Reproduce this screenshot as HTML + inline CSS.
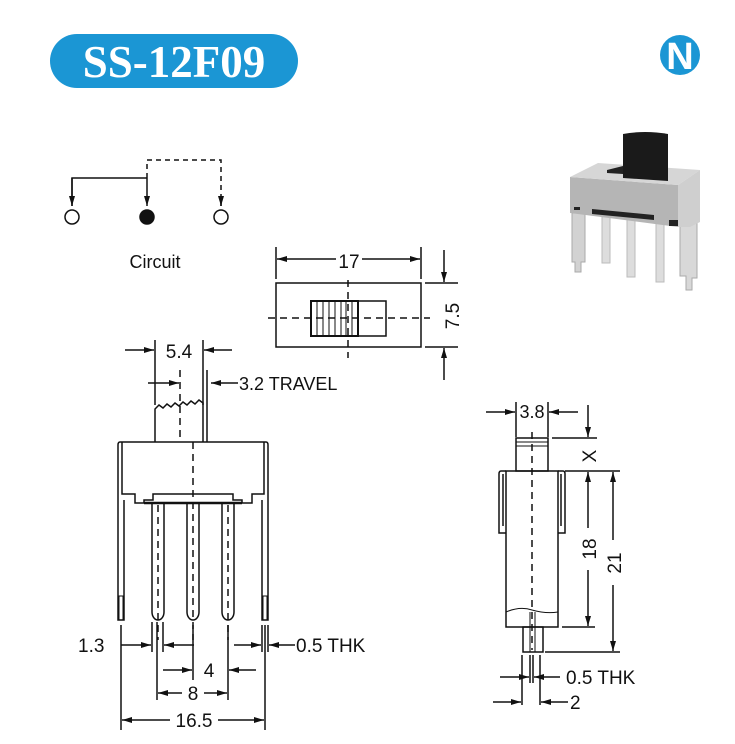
<!DOCTYPE html>
<html><head><meta charset="utf-8"><style>
html,body{margin:0;padding:0;background:#fff;}
svg{display:block;font-family:"Liberation Sans",Arial,sans-serif;}
</style></head><body>
<svg width="735" height="744" viewBox="0 0 735 744" xmlns="http://www.w3.org/2000/svg">
<defs>
<marker id="a" viewBox="0 0 10 6" refX="10" refY="3" markerWidth="10" markerHeight="6" markerUnits="userSpaceOnUse" orient="auto"><path d="M0,0 L10,3 L0,6 z" fill="#111"/></marker>
</defs>
<rect x="50" y="34" width="248" height="54" rx="27" fill="#1b96d4"/>
<text x="174" y="77" text-anchor="middle" font-family="'Liberation Serif',serif" font-weight="bold" font-size="45" fill="#fff">SS-12F09</text>
<circle cx="680" cy="55" r="20" fill="#1b96d4"/>
<text x="680" y="69" text-anchor="middle" font-weight="bold" font-size="38" fill="#fff" font-family="'Liberation Sans',sans-serif">N</text>

<g stroke="#111" stroke-width="1.5" fill="none">
<path d="M72,206 V178 H147"/>
<line x1="72" y1="178" x2="72" y2="206" marker-end="url(#a)"/>
<line x1="147" y1="178" x2="147" y2="206" marker-end="url(#a)"/>
<path d="M147,178 V160 H221 V206" stroke-dasharray="5,4"/>
<line x1="221" y1="200" x2="221" y2="206" marker-end="url(#a)"/>
<circle cx="72" cy="217" r="7"/>
<circle cx="147" cy="217" r="7" fill="#111"/>
<circle cx="221" cy="217" r="7"/>

<rect x="276" y="283" width="145" height="64"/>
<line x1="276" y1="247" x2="276" y2="279"/>
<line x1="421" y1="247" x2="421" y2="279"/>
<line x1="336" y1="259" x2="277" y2="259" marker-end="url(#a)"/>
<line x1="362" y1="259" x2="420" y2="259" marker-end="url(#a)"/>
<rect x="311" y="301" width="75" height="35"/>
<path d="M311,301 H358 V336 H311 z" stroke-width="2"/>
<path d="M317,301V336M323,301V336M329,301V336M335,301V336M341,301V336M346,301V336M352,301V336" stroke-width="1"/>
<line x1="268" y1="318" x2="430" y2="318" stroke-dasharray="7,5"/>
<line x1="348" y1="280" x2="348" y2="358" stroke-dasharray="7,5"/>
<line x1="425" y1="283" x2="458" y2="283"/>
<line x1="425" y1="347" x2="458" y2="347"/>
<line x1="444" y1="250" x2="444" y2="282" marker-end="url(#a)"/>
<line x1="444" y1="380" x2="444" y2="348" marker-end="url(#a)"/>

<path d="M155,442 V409 l4,-4 4,3 4,-4 4,3 4,-4 4,3 4,-4 4,3 4,-4 4,3 4,-4 4,3 V442"/>
<line x1="155" y1="340" x2="155" y2="405"/>
<line x1="203" y1="340" x2="203" y2="405"/>
<line x1="125" y1="350" x2="154" y2="350" marker-end="url(#a)"/>
<line x1="232" y1="350" x2="204" y2="350" marker-end="url(#a)"/>
<line x1="207" y1="370" x2="207" y2="442"/>
<line x1="148" y1="383" x2="179" y2="383" marker-end="url(#a)"/>
<line x1="238" y1="383" x2="211" y2="383" marker-end="url(#a)"/>
<line x1="180" y1="370" x2="180" y2="442" stroke-dasharray="7,5"/>
<path d="M120,442 H266 M120,442 q-2,0 -2,3 V620 h6 V500"/>
<path d="M266,442 q2,0 2,3 V620 h-6 V500"/>
<path d="M122,442 V494 H135 V503 H144 V500 H153 V494 H233 V500 H242 V503 H252 V494 H264 V442"/>
<line x1="144" y1="503" x2="242" y2="503" stroke-width="2.5"/>
<line x1="193" y1="442" x2="193" y2="640" stroke-dasharray="7,5"/>
<path d="M152,503 V612 a6,8 0 0 0 12,0 V503"/>
<path d="M187,503 V612 a6,8 0 0 0 12,0 V503"/>
<path d="M222,503 V612 a6,8 0 0 0 12,0 V503"/>
<line x1="158" y1="505" x2="158" y2="640" stroke-dasharray="7,5"/>
<line x1="228" y1="505" x2="228" y2="640" stroke-dasharray="7,5"/>
<rect x="119" y="596" width="4" height="24" stroke-width="1"/>
<rect x="263" y="596" width="4" height="24" stroke-width="1"/>
<line x1="121" y1="625" x2="121" y2="730"/>
<line x1="265" y1="625" x2="265" y2="730"/>
<line x1="262" y1="625" x2="262" y2="652"/>
<line x1="268" y1="625" x2="268" y2="652"/>
<line x1="152" y1="622" x2="152" y2="652"/>
<line x1="157" y1="622" x2="157" y2="700"/>
<line x1="163" y1="622" x2="163" y2="652"/>
<line x1="193" y1="625" x2="193" y2="680"/>
<line x1="228" y1="625" x2="228" y2="700"/>
<line x1="121" y1="645" x2="151" y2="645" marker-end="url(#a)"/>
<line x1="194" y1="645" x2="164" y2="645" marker-end="url(#a)"/>
<line x1="234" y1="645" x2="261" y2="645" marker-end="url(#a)"/>
<line x1="295" y1="645" x2="269" y2="645" marker-end="url(#a)"/>
<line x1="163" y1="670" x2="192" y2="670" marker-end="url(#a)"/>
<line x1="256" y1="670" x2="229" y2="670" marker-end="url(#a)"/>
<line x1="182" y1="693" x2="158" y2="693" marker-end="url(#a)"/>
<line x1="204" y1="693" x2="227" y2="693" marker-end="url(#a)"/>
<line x1="170" y1="720" x2="122" y2="720" marker-end="url(#a)"/>
<line x1="218" y1="720" x2="264" y2="720" marker-end="url(#a)"/>

<rect x="516" y="438" width="32" height="33"/>
<line x1="516" y1="442" x2="548" y2="442" stroke-width="1"/>
<line x1="516" y1="446" x2="548" y2="446" stroke-width="1"/>
<rect x="506" y="471" width="52" height="156"/>
<path d="M506,471 H501 q-2,0 -2,3 V533 H506 M503,474 V526"/>
<path d="M558,471 H563 q2,0 2,3 V533 H558 M561,474 V526"/>
<path d="M506,612 q14,-6 26,-2 q14,4 26,2" stroke-width="1"/>
<rect x="523" y="627" width="20" height="25"/>
<line x1="530" y1="612" x2="530" y2="652" stroke-width="1"/>
<line x1="535" y1="612" x2="535" y2="652" stroke-width="1"/>
<line x1="532" y1="432" x2="532" y2="650" stroke-dasharray="7,5"/>
<line x1="516" y1="402" x2="516" y2="437"/>
<line x1="548" y1="402" x2="548" y2="437"/>
<line x1="486" y1="412" x2="515" y2="412" marker-end="url(#a)"/>
<line x1="578" y1="412" x2="549" y2="412" marker-end="url(#a)"/>
<line x1="552" y1="438" x2="597" y2="438"/>
<line x1="565" y1="471" x2="620" y2="471"/>
<line x1="562" y1="627" x2="595" y2="627"/>
<line x1="545" y1="652" x2="620" y2="652"/>
<line x1="588" y1="405" x2="588" y2="437" marker-end="url(#a)"/>
<line x1="588" y1="528" x2="588" y2="472" marker-end="url(#a)"/>
<line x1="588" y1="570" x2="588" y2="626" marker-end="url(#a)"/>
<line x1="613" y1="540" x2="613" y2="472" marker-end="url(#a)"/>
<line x1="613" y1="585" x2="613" y2="651" marker-end="url(#a)"/>
<line x1="522" y1="655" x2="522" y2="705"/>
<line x1="530" y1="655" x2="530" y2="683"/>
<line x1="533" y1="655" x2="533" y2="683"/>
<line x1="540" y1="655" x2="540" y2="705"/>
<line x1="500" y1="677" x2="529" y2="677" marker-end="url(#a)"/>
<line x1="560" y1="677" x2="534" y2="677" marker-end="url(#a)"/>
<line x1="493" y1="702" x2="521" y2="702" marker-end="url(#a)"/>
<line x1="568" y1="702" x2="541" y2="702" marker-end="url(#a)"/>
</g>

<g fill="#111" font-size="19">
<text x="155" y="268" text-anchor="middle" font-size="18">Circuit</text>
<text x="349" y="268" text-anchor="middle">17</text>
<text transform="translate(459,316) rotate(-90)" text-anchor="middle">7.5</text>
<text x="179" y="358" text-anchor="middle">5.4</text>
<text x="239" y="390" font-size="18">3.2 TRAVEL</text>
<text x="78" y="652">1.3</text>
<text x="296" y="652">0.5 THK</text>
<text x="209" y="677" text-anchor="middle">4</text>
<text x="193" y="700" text-anchor="middle">8</text>
<text x="194" y="727" text-anchor="middle">16.5</text>
<text x="532" y="418" text-anchor="middle" font-size="18">3.8</text>
<text transform="translate(596,456) rotate(-90)" text-anchor="middle">X</text>
<text transform="translate(596,549) rotate(-90)" text-anchor="middle">18</text>
<text transform="translate(621,563) rotate(-90)" text-anchor="middle">21</text>
<text x="566" y="684">0.5 THK</text>
<text x="570" y="709">2</text>
</g>

<!-- photo -->
<g>
<path d="M572,213 H585 V262 H581 V272 H575 V262 H572 z" fill="#d2d2d2" stroke="#aaa"/>
<path d="M680,185 H697 V278 H692 V290 H686 V276 H680 z" fill="#d8d8d8" stroke="#aaa"/>
<rect x="602" y="215" width="8" height="48" fill="#ddd" stroke="#bbb"/>
<rect x="627" y="219" width="8" height="58" fill="#ddd" stroke="#bbb"/>
<rect x="656" y="222" width="8" height="60" fill="#ddd" stroke="#bbb"/>
<path d="M570,177 L678,185 V227 L570,213 z" fill="#b5b5b5"/>
<path d="M570,177 L598,163 L700,170 L678,185 z" fill="#d6d6d6"/>
<path d="M678,185 L700,170 V222 L690,227 L678,227 z" fill="#cfcfcf"/>
<path d="M574,207 H580 V210 H574 z M592,209 L654,215 V220 L592,214 z M669,220 H678 V226 H669 z" fill="#222"/>
<path d="M623,134 Q645,130 668,134 V181 L623,178 z" fill="#1a1a1a"/>
<path d="M607,170 L623,166 V174 L607,173 z" fill="#222"/>
</g>
</svg>
</body></html>
